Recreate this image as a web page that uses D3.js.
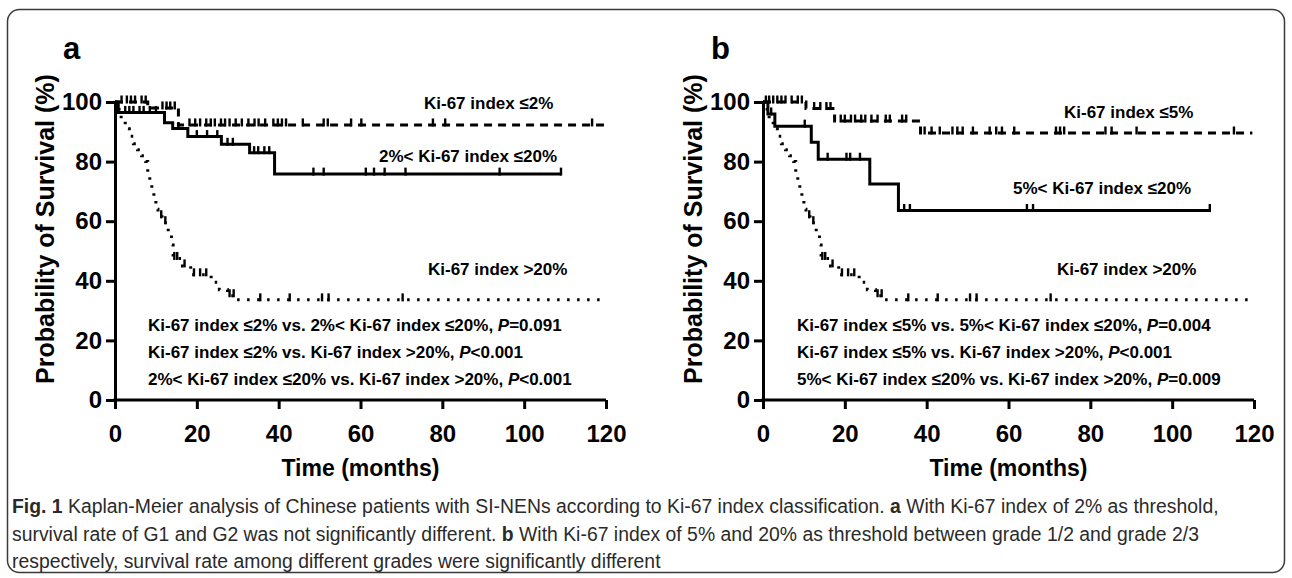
<!DOCTYPE html>
<html>
<head>
<meta charset="utf-8">
<script src="https://cdn.jsdelivr.net/npm/d3@7"></script>
<style>
  body { margin: 0; background: #fff; }
  svg text { font-family: "Liberation Sans", Arial, sans-serif; }
</style>
</head>
<body>
<svg id="chart" width="1292" height="578"></svg>
<script>
// axis ticks
const xTicks = [0, 20, 40, 60, 80, 100, 120];
const yTicks = [0, 20, 40, 60, 80, 100];

// Ki-67 index >20% group (same patients in both panels): [months, survival %]
const highSteps = [[0,100],[1,96.5],[1.5,93.5],[2.5,91],[3.5,88.5],[4.5,86],[5.5,84],[6.5,82],[7.5,80],
  [8,76.5],[8.5,73.5],[9,70.5],[9.5,67.5],[10,64],[10.5,61.5],[11.5,59.5],[13,56],[13.8,52],[14.2,47.5],
  [16.5,45],[18.5,42],[23.5,39.5],[25.5,37],[27.5,35],[29.5,33.6],[120,33.6]];
const highCensor = [11.3,12.3,14.5,15.2,17,19.3,20.8,22.3,28,29,35.5,42.7,50.6,52.2,70.3];

// panel a: Ki-67 index <=2%
const lowA = [[0,100],[8,98],[15.5,92.3],[119.5,92.3]];
const lowACensor = [1.6,2.9,3.9,4.9,6.5,7.5,11.6,12.6,13.5,14.6,18.2,19.6,20.8,22.3,23.4,24.4,25.9,26.9,28,
  29.5,31,32.6,34.1,35.1,36.7,38.7,39.8,40.8,41.8,45.9,51,52,57.7,60.2,77.7,80.7,116.6];
// panel a: 2% < Ki-67 index <=20%
const midA = [[0,100],[0.8,96.5],[12.1,93],[14.1,91.1],[17.8,88.4],[26,85.8],[32.9,83],[39,75.8],[109,75.8]];
const midACensor = [2.5,3.5,4.5,6,7,8.5,10,15.5,20,22.5,25,27.5,28.8,34,35,36.5,37.7,48.5,51,61.3,63.3,65.9,71,94,109];

// panel b: Ki-67 index <=5%
const lowB = [[0,100],[10.5,97.8],[17.5,93.6],[38.5,89.6],[119.6,89.6]];
const lowBCensor = [0.7,1.5,2.5,3.5,4.5,5.5,7,8.5,9.5,12.5,14,15.5,16.5,19,20,21.5,22.5,24,25,26.5,28,30,31,
  34,35,39.5,41.2,43.2,46.3,47.5,48.8,51.3,55.4,57,58.4,61.4,71.6,72.6,73.6,83.7,85.2,91.3,115.1];
// panel b: 5% < Ki-67 index <=20%
const midB = [[0,100],[1.2,96],[2.9,91.9],[11.8,86.5],[13.5,80.8],[26.1,72.5],[33.1,63.6],[109.2,63.6]];
const midBCensor = [2,10.2,15.8,20.4,21.3,23.7,34.5,35.9,64.5,66,109.2];

// texts
const panelLetters = ["a", "b"];
const curveLabelsA = ["Ki-67 index \u22642%", "2%< Ki-67 index \u226420%", "Ki-67 index >20%"];
const curveLabelsB = ["Ki-67 index \u22645%", "5%< Ki-67 index \u226420%", "Ki-67 index >20%"];
const statsA = [
  ["Ki-67 index \u22642% vs. 2%< Ki-67 index \u226420%, ", "=0.091"],
  ["Ki-67 index \u22642% vs. Ki-67 index >20%, ", "<0.001"],
  ["2%< Ki-67 index \u226420% vs. Ki-67 index >20%, ", "<0.001"]];
const statsB = [
  ["Ki-67 index \u22645% vs. 5%< Ki-67 index \u226420%, ", "=0.004"],
  ["Ki-67 index \u22645% vs. Ki-67 index >20%, ", "<0.001"],
  ["5%< Ki-67 index \u226420% vs. Ki-67 index >20%, ", "=0.009"]];
const yTitle = "Probability of Survival (%)";
const xTitle = "Time (months)";
const caption = [
  [["Fig. 1", true], [" Kaplan-Meier analysis of Chinese patients with SI-NENs according to Ki-67 index classification. ", false],
   ["a", true], [" With Ki-67 index of 2% as threshold,", false]],
  [["survival rate of G1 and G2 was not significantly different. ", false], ["b", true],
   [" With Ki-67 index of 5% and 20% as threshold between grade 1/2 and grade 2/3", false]],
  [["respectively, survival rate among different grades were significantly different", false]]];

const svg = d3.select("#chart");

// rounded frame around figure and caption
svg.append("rect")
  .attr("x", 7.5).attr("y", 9.5).attr("width", 1277).attr("height", 563).attr("rx", 12)
  .attr("fill", "none").attr("stroke", "#3a3a3a").attr("stroke-width", 1.5);

const panels = [
  { letter: panelLetters[0], x0: 115, x1: 606,
    curves: [ {steps: lowA, censor: lowACensor, dash: "8,6"},
              {steps: midA, censor: midACensor, dash: null},
              {steps: highSteps, censor: highCensor, dash: "2.5,7.5"} ],
    labels: curveLabelsA, labelPos: [[309, 99.5], [264, 82], [313, 44]],
    stats: statsA, statX: 33, statY: [25.3, 16, 7] },
  { letter: panelLetters[1], x0: 763, x1: 1254,
    curves: [ {steps: lowB, censor: lowBCensor, dash: "8,6"},
              {steps: midB, censor: midBCensor, dash: null},
              {steps: highSteps, censor: highCensor, dash: "2.5,7.5"} ],
    labels: curveLabelsB, labelPos: [[301, 96.5], [250, 71], [294, 44]],
    stats: statsB, statX: 34, statY: [25.3, 16, 7] }
];

const yTop = 102, yBot = 400;

function survivalAt(steps, t) {
  let s = steps[0][1];
  for (const d of steps) { if (d[0] <= t) s = d[1]; else break; }
  return s;
}

panels.forEach(p => {
  const x = d3.scaleLinear().domain([0, 120]).range([p.x0, p.x1]);
  const y = d3.scaleLinear().domain([0, 100]).range([yBot, yTop]);
  const g = svg.append("g");

  // panel letter
  g.append("text").attr("x", p.x0 - 52).attr("y", 59)
    .attr("font-size", 31).attr("font-weight", "bold").text(p.letter);

  // axes
  const xAxis = g.append("g").attr("transform", `translate(0,${yBot})`)
    .call(d3.axisBottom(x).tickValues(xTicks).tickSize(9).tickSizeOuter(0).tickPadding(16));
  const yAxis = g.append("g").attr("transform", `translate(${p.x0},0)`)
    .call(d3.axisLeft(y).tickValues(yTicks).tickSize(9).tickSizeOuter(0).tickPadding(4));
  [xAxis, yAxis].forEach(a => {
    a.selectAll("path, line").attr("stroke", "#000").attr("stroke-width", 3);
    a.selectAll("text").attr("fill", "#000").attr("font-size", 24).attr("font-weight", "bold")
      .attr("font-family", "'Liberation Sans', Arial, sans-serif");
  });
  xAxis.select(".domain").attr("d", `M${p.x0 - 1.5},0H${p.x1}`);

  // axis titles
  g.append("text").attr("x", (p.x0 + p.x1) / 2).attr("y", 476).attr("text-anchor", "middle")
    .attr("font-size", 23).attr("font-weight", "bold").text(xTitle);
  g.append("text").attr("transform", `translate(${p.x0 - 70},229) rotate(-90)`)
    .attr("dy", "0.35em").attr("text-anchor", "middle").attr("font-size", 25).attr("font-weight", "bold")
    .text(yTitle);

  // curves
  const line = d3.line().x(d => x(d[0])).y(d => y(d[1])).curve(d3.curveStepAfter);
  p.curves.forEach(c => {
    g.append("path").datum(c.steps).attr("d", line)
      .attr("fill", "none").attr("stroke", "#000").attr("stroke-width", 3)
      .attr("stroke-dasharray", c.dash);
    g.selectAll(null).data(c.censor).enter().append("line")
      .attr("x1", t => x(t)).attr("x2", t => x(t))
      .attr("y1", t => y(survivalAt(c.steps, t)) + 1.5)
      .attr("y2", t => y(survivalAt(c.steps, t)) - 6.5)
      .attr("stroke", "#000").attr("stroke-width", 2.4);
  });

  // curve labels
  p.labels.forEach((lab, i) => {
    g.append("text").attr("x", p.x0 + p.labelPos[i][0]).attr("y", y(p.labelPos[i][1]))
      .attr("dy", "0.35em").attr("font-size", 17).attr("font-weight", "bold").text(lab);
  });

  // log-rank comparisons
  p.stats.forEach((st, i) => {
    const t = g.append("text").attr("x", p.x0 + p.statX).attr("y", y(p.statY[i]))
      .attr("dy", "0.35em").attr("font-size", 17).attr("font-weight", "bold");
    t.append("tspan").text(st[0]);
    t.append("tspan").attr("font-style", "italic").text("P");
    t.append("tspan").text(st[1]);
  });
});

// caption, condensed to the width of the original lines
const capBase = [513, 541, 568];
const capNodes = caption.map(parts => {
  const t = svg.append("text").attr("font-size", 21).attr("fill", "#2a2a2a")
    .attr("font-family", "'Open Sans', sans-serif");
  parts.forEach(pt => t.append("tspan").attr("font-weight", pt[1] ? "bold" : "normal").text(pt[0]));
  return t;
});
const k = 1207 / capNodes[0].node().getComputedTextLength();
capNodes.forEach((t, i) => t.attr("transform", `translate(12,${capBase[i]}) scale(${k},1)`));
</script>
</body>
</html>
